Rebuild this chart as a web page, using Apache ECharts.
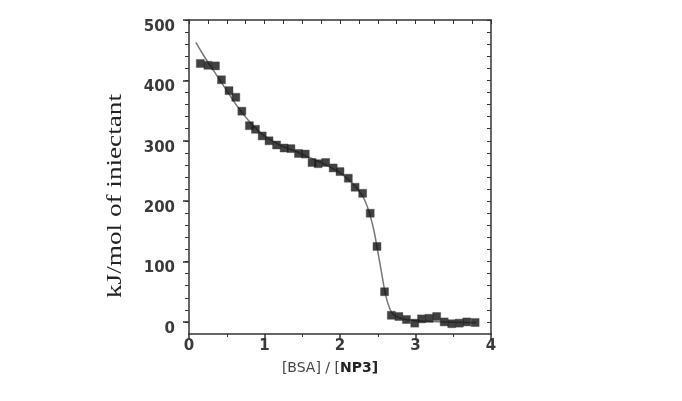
<!DOCTYPE html>
<html>
<head>
<meta charset="utf-8">
<script src="https://cdn.jsdelivr.net/npm/echarts@6/dist/echarts.min.js"></script>
<style>html,body{margin:0;padding:0;background:#fff}#c{width:682px;height:401px}</style>
</head>
<body>
<div id="c"></div>
<script>
// Measured points: [BSA]/[NP3] ratio and heat (kJ/mol of injectant)
const ratioPts = [0.15,0.25,0.35,0.43,0.53,0.62,0.70,0.80,0.88,0.97,1.06,1.16,1.26,1.35,1.45,1.54,1.63,1.71,1.81,1.91,2.00,2.11,2.20,2.30,2.40,2.49,2.59,2.68,2.78,2.88,2.99,3.08,3.18,3.28,3.38,3.48,3.58,3.68,3.79];
const heatPts  = [428,425,424,401,383,372,349,325,319,308,300,293,288,287,279,278,264,262,264,255,249,238,223,213,180,125,50,11,9,4,-2,5,6,9,0,-3,-2,0,-1];
// Fitted curve
const ratioFit = [0.09,0.2,0.3,0.4,0.5,0.6,0.7,0.8,0.9,1.0,1.2,1.4,1.6,1.8,2.0,2.1,2.2,2.3,2.35,2.4,2.45,2.5,2.55,2.6,2.65,2.7,2.8,3.0,3.4,3.8];
const heatFit  = [463,440,421,402,383,364,347,332,319,308,293,283,272,261,247,237,225,208,195,176,151,117,82,47,25,13,6,2,0,-1];
const yTickLabels = [0,100,200,300,400,500];
const xTickLabels = [0,1,2,3,4];
const yTitle = 'kJ/mol of iniectant';
const xTitleParts = ['[BSA] / [', 'NP3', ']'];

const pts = ratioPts.map((x,i)=>[x,heatPts[i]]);
const fit = ratioFit.map((x,i)=>[x,heatFit[i]]);
const minorY = []; for (let v=0; v<=500; v+=20) minorY.push(v);

const axisCol = '#333';
const labelFont = {fontFamily:'DejaVu Sans',fontSize:15,fontWeight:'bold',color:'#3a3a3a'};
const chart = echarts.init(document.getElementById('c'));
chart.setOption({
  animation:false,
  grid:{left:189,right:191,top:20,bottom:67},
  graphic:[{
    type:'text',x:116,y:196,rotation:Math.PI/2,scaleX:1.36,
    style:{text:yTitle,font:'20px "Liberation Serif"',fill:'#222',align:'center',verticalAlign:'middle'}
  }],
  xAxis:[{
    type:'value',min:0,max:4,interval:1,position:'bottom',
    name:'{a|'+xTitleParts[0]+'}{b|'+xTitleParts[1]+'}{b|'+xTitleParts[2]+'}',nameLocation:'middle',nameGap:27,
    nameTextStyle:{padding:[0,20,0,0],rich:{a:{fontFamily:'DejaVu Sans',fontSize:14,color:'#444'},b:{fontFamily:'DejaVu Sans',fontSize:14,fontWeight:'bold',color:'#222'}}},
    axisLine:{onZero:false,lineStyle:{color:axisCol,width:1.5}},
    axisTick:{length:5,lineStyle:{color:axisCol,width:1.5}},
    minorTick:{show:true,splitNumber:2,length:3,lineStyle:{color:axisCol}},
    splitLine:{show:false},minorSplitLine:{show:false},
    axisLabel:Object.assign({margin:5,formatter:v=>xTickLabels.includes(v)?String(v):''},labelFont)
  },{
    type:'value',min:0,max:4,interval:0.25,position:'top',
    axisLine:{show:true,onZero:false,lineStyle:{color:axisCol,width:1.5}},
    axisTick:{show:true,inside:true,length:4,lineStyle:{color:axisCol}},
    axisLabel:{show:false},splitLine:{show:false}
  }],
  yAxis:[{
    type:'value',min:-20,max:500,position:'left',
    axisLine:{show:true,onZero:false,lineStyle:{color:axisCol,width:1.5}},
    axisTick:{show:true,length:6,customValues:yTickLabels,lineStyle:{color:axisCol,width:1.5}},
    axisLabel:{margin:14,customValues:yTickLabels,formatter:v=>'{v|'+v+'}',
      rich:{v:Object.assign({padding:[14,0,0,0]},labelFont)}},
    splitLine:{show:false}
  },{
    type:'value',min:-20,max:500,position:'left',
    axisLine:{show:false,onZero:false},
    axisTick:{show:true,length:4,customValues:minorY,lineStyle:{color:axisCol}},
    axisLabel:{show:false},splitLine:{show:false}
  },{
    type:'value',min:-20,max:500,position:'right',
    axisLine:{show:true,onZero:false,lineStyle:{color:axisCol,width:1.5}},
    axisTick:{show:true,inside:true,length:4,customValues:minorY,lineStyle:{color:axisCol}},
    axisLabel:{show:false},splitLine:{show:false}
  }],
  series:[{
    type:'line',data:fit,smooth:0.4,showSymbol:false,
    lineStyle:{color:'#777',width:1.5},z:2
  },{
    type:'scatter',data:pts,symbol:'rect',symbolSize:8,
    itemStyle:{color:'#111',borderColor:'#444',borderWidth:0.5},z:3
  }]
});
</script>
</body>
</html>
